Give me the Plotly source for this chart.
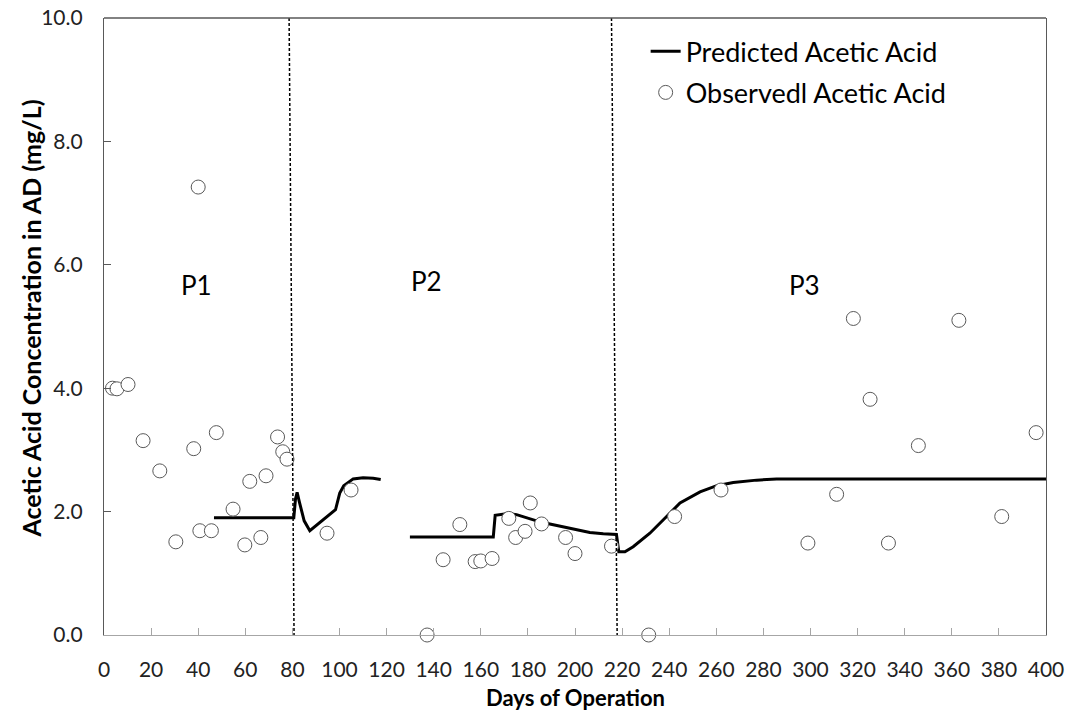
import plotly.graph_objects as go

# ---- data ----
obs_days = [3.6, 5.5, 10.2, 16.6, 23.7, 30.5, 38.1, 40.0, 40.7, 45.6, 47.7, 54.8,
            59.8, 61.9, 66.6, 68.8, 73.7, 75.9, 77.7, 94.7, 104.9,
            137.2, 144.0, 151.1, 157.6, 160.0, 164.8, 171.9, 174.8, 178.8, 181.0,
            185.8, 196.0, 200.0, 215.5,
            231.3, 242.3, 262.0, 298.9, 311.1, 318.2, 325.3, 333.1, 345.8, 363.0,
            381.2, 395.8]
obs_vals = [4.00, 3.99, 4.06, 3.15, 2.66, 1.51, 3.02, 7.26, 1.69, 1.69, 3.28, 2.04,
            1.46, 2.49, 1.58, 2.58, 3.21, 2.97, 2.85, 1.65, 2.35,
            0.0, 1.22, 1.79, 1.19, 1.20, 1.24, 1.89, 1.58, 1.68, 2.14,
            1.80, 1.58, 1.32, 1.44,
            0.0, 1.92, 2.35, 1.49, 2.28, 5.13, 3.82, 1.49, 3.07, 5.10,
            1.92, 3.28]

pred_days_p1 = [46.7, 80.6, 81.3, 82.0, 83.0, 85.0, 87.4, 92.3, 97.3, 98.3,
                100.1, 101.8, 105.8, 110.0, 114.3, 117.5]
pred_vals_p1 = [1.90, 1.90, 2.20, 2.31, 2.15, 1.85, 1.69, 1.84, 1.99, 2.03,
                2.30, 2.42, 2.53, 2.55, 2.54, 2.52]

pred_days_p23 = [129.9, 165.3, 166.1, 168.8, 171.6, 175.2, 179.4, 183.7, 189.3,
                 195.0, 200.7, 206.3, 212.0, 217.6, 218.6, 221.2, 224.7, 231.8,
                 238.9, 244.6, 253.1, 260.2, 267.2, 277.1, 285.6, 295.5, 320.0,
                 340.0, 400.0]
pred_vals_p23 = [1.59, 1.59, 1.94, 1.96, 1.97, 1.95, 1.90, 1.85, 1.80,
                 1.75, 1.70, 1.66, 1.64, 1.63, 1.35, 1.35, 1.43, 1.65,
                 1.92, 2.14, 2.32, 2.42, 2.47, 2.51, 2.53, 2.53, 2.54,
                 2.53, 2.53]

boundary_top = [78.6, 215.5]
boundary_bottom = [80.7, 217.9]

phase_labels = ["P1", "P2", "P3"]
phase_label_x = [39.4, 137.0, 297.6]
phase_label_y = [5.68, 5.74, 5.68]

x_ticks = list(range(0, 401, 20))
y_ticks = [0, 2, 4, 6, 8, 10]

FONT = "Lato"

fig = go.Figure()

fig.add_trace(go.Scatter(
    x=pred_days_p1 + [None] + pred_days_p23,
    y=pred_vals_p1 + [None] + pred_vals_p23,
    mode="lines", name="Predicted Acetic Acid",
    line=dict(color="black", width=3),
    connectgaps=False, legendgroup="a",
))
fig.add_trace(go.Scatter(
    x=obs_days, y=obs_vals, mode="markers", name="Observedl Acetic Acid",
    marker=dict(symbol="circle", size=14, color="white",
                line=dict(color="#595959", width=1)),
    cliponaxis=False, legendgroup="b",
))

for xt, xb in zip(boundary_top, boundary_bottom):
    fig.add_shape(type="line", xref="x", yref="y", x0=xt, y0=10, x1=xb, y1=0,
                  line=dict(color="black", width=1.5, dash="3px,2px"))

# top border
fig.add_shape(type="line", xref="paper", yref="paper", x0=0, y0=1, x1=1, y1=1,
              line=dict(color="#595959", width=1.3))

for t, xx, yy in zip(phase_labels, phase_label_x, phase_label_y):
    fig.add_annotation(x=xx, y=yy, text=t, showarrow=False,
                       font=dict(family=FONT, size=26, color="black"))

fig.add_annotation(xref="paper", yref="paper", x=0.5, y=0, yshift=-62,
                   xanchor="center", yanchor="middle",
                   text="<b>Days of Operation</b>", showarrow=False,
                   font=dict(family=FONT, size=22, color="black"))
fig.add_annotation(xref="paper", yref="paper", x=0, y=0.5, xshift=-74,
                   yshift=8, xanchor="center", yanchor="middle",
                   text="<b>Acetic Acid Concentration in AD (mg/L)</b>",
                   textangle=-90, showarrow=False,
                   font=dict(family=FONT, size=25, color="black"))

fig.update_xaxes(range=[0, 400], tickvals=x_ticks, ticks="inside", ticklen=7,
                 tickcolor="#a6a6a6", linecolor="#a6a6a6", linewidth=1.3,
                 showline=True, showgrid=False, zeroline=False,
                 tickfont=dict(family=FONT, size=21, color="#222"),
                 ticklabelstandoff=16, automargin=False,
                 ticklabeloverflow="allow")
fig.update_yaxes(range=[0, 10], tickvals=y_ticks, tickformat=".1f",
                 ticks="inside", ticklen=7, tickcolor="#595959",
                 linecolor="#595959", linewidth=1.3, mirror=True,
                 showline=True, showgrid=False, zeroline=False,
                 tickfont=dict(family=FONT, size=21, color="#222"),
                 ticklabelstandoff=16, automargin=False,
                 ticklabeloverflow="allow")

fig.update_layout(
    width=1068, height=710,
    margin=dict(l=104, r=22, t=18, b=75),
    plot_bgcolor="white", paper_bgcolor="white",
    font=dict(family=FONT, size=19, color="black"),
    legend=dict(x=0.575, y=0.985, xanchor="left", yanchor="top",
                bgcolor="rgba(0,0,0,0)", borderwidth=0,
                font=dict(family=FONT, size=27, color="black"),
                itemwidth=30, traceorder="grouped", tracegroupgap=3),
)

# remove the default 8px page margin so the figure fills the window exactly
fig.write_html("out.html",
               config={"displayModeBar": False},
               post_script="document.body.style.margin='0';")
